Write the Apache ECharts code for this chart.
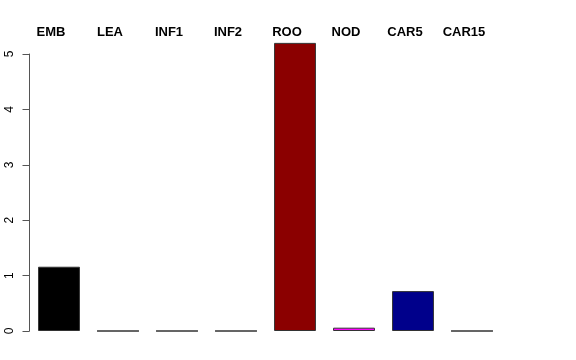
<!DOCTYPE html>
<html><head><meta charset="utf-8">
<script src="https://cdn.jsdelivr.net/npm/echarts@6/dist/echarts.min.js"></script>
<style>html,body{margin:0;padding:0;background:#fff}#c{width:576px;height:360px}</style>
</head><body><div id="c"></div>
<script>
const categories = ["EMB","LEA","INF1","INF2","ROO","NOD","CAR5","CAR15"];
const values = [1.16, 0, 0, 0, 5.2, 0.06, 0.72, 0];
const barColors = ["#000000","#808080","#808080","#808080","#8B0000","#FF00FF","#00008B","#808080"];
const yTicks = [0,1,2,3,4,5];

const chart = echarts.init(document.getElementById('c'), null, {renderer:'canvas'});
const font = '"Liberation Sans", Arial, sans-serif';
chart.setOption({
  animation:false,
  backgroundColor:'#fff',
  grid:[
    {left:29.5, right:74.5, top:31.8, bottom:29},
    {left:29.5, right:74.5, top:54, bottom:29}
  ],
  xAxis:[
    {type:'category', gridIndex:0, data:categories, show:false},
    {type:'category', gridIndex:1, data:categories, position:'top',
     axisLine:{show:false}, axisTick:{show:false},
     axisLabel:{fontFamily:font, fontWeight:'bold', fontSize:13, color:'#000', margin:15, interval:0,
       padding:[0,16,0,0]}}
  ],
  yAxis:[
    {type:'value', gridIndex:0, min:0, max:5.4, show:false},
    {type:'value', gridIndex:1, min:0, max:5, interval:1,
     axisLine:{show:true, lineStyle:{color:'#555', width:1}},
     axisTick:{show:true, length:7, lineStyle:{color:'#555'}},
     splitLine:{show:false},
     axisLabel:{rotate:90, margin:14, fontFamily:font, fontSize:12, color:'#000',
       formatter:(v)=> yTicks.includes(v) ? String(v) : ''}}
  ],
  series:[{
    type:'bar', xAxisIndex:0, yAxisIndex:0,
    barCategoryGap:'29%',
    data: values.map((v,i)=>({value:v, itemStyle:{color:barColors[i]}})),
    itemStyle:{borderColor:'#333', borderWidth:1}
  }]
});
</script></body></html>
